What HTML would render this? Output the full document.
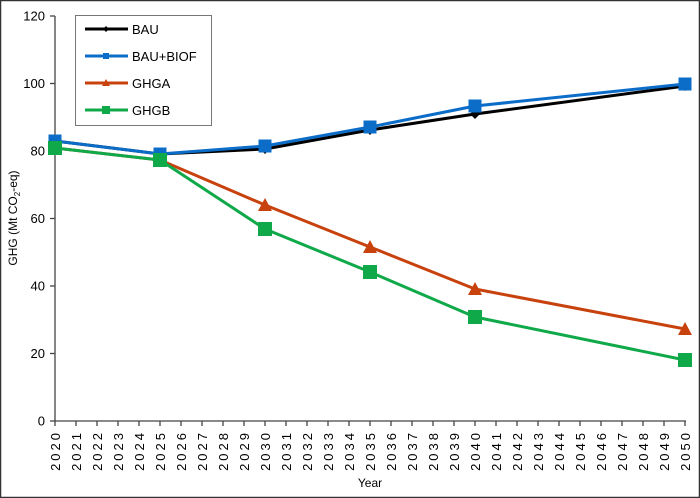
<!DOCTYPE html>
<html><head><meta charset="utf-8"><style>
html,body{margin:0;padding:0;background:#fff}
svg{display:block;font-family:"Liberation Sans",Arial,sans-serif}
</style></head><body>
<svg id="s" width="700" height="498" viewBox="0 0 700 498" xmlns="http://www.w3.org/2000/svg">
<rect x="0.5" y="0.5" width="699" height="497" fill="#fff" stroke="#333" stroke-width="1.5"/>
<g id="axes" stroke="#444" stroke-width="1.3">
<line x1="55" y1="16" x2="55" y2="421"/>
<line x1="55" y1="421" x2="686" y2="421"/>
</g>
<g id="ticks"></g>
<text x="17" y="218" font-size="12" text-anchor="middle" transform="rotate(-90 17 218)">GHG (Mt CO<tspan font-size="8" dy="3">2</tspan><tspan dy="-3">-eq)</tspan></text>
<text x="370" y="487" font-size="12" text-anchor="middle">Year</text>
<g fill="none" stroke-width="3" stroke-linejoin="round">
<polyline stroke="#000" points="55,141 160,154 265,149 370,130 475,114 685,86"/>
<polyline stroke="#0b6dc8" points="55,141 160,154 265,146 370,127 475,106 685,84"/>
<polyline stroke="#c8420e" points="55,148 160,160 265,205 370,247 475,289 685,329"/>
<polyline stroke="#10a94a" points="55,148 160,160 265,229 370,272 475,317 685,360"/>
</g>
<g id="mk"></g>
<rect x="75.5" y="15.5" width="136" height="110" fill="#fff" stroke="#777"/>
<g stroke-width="3">
<line x1="85" y1="29" x2="128" y2="29" stroke="#000"/>
<line x1="85" y1="56" x2="128" y2="56" stroke="#0b6dc8"/>
<line x1="85" y1="83" x2="128" y2="83" stroke="#c8420e"/>
<line x1="85" y1="110" x2="128" y2="110" stroke="#10a94a"/>
</g>
<polygon points="106,26 109,29 106,32 103,29" fill="#000"/>
<rect x="103" y="53" width="6" height="6" fill="#0b6dc8"/>
<polygon points="106,79 110,86 102,86" fill="#c8420e"/>
<rect x="102" y="106" width="8" height="8" fill="#10a94a"/>
<g font-size="13" fill="#000">
<text x="132" y="34">BAU</text><text x="132" y="61">BAU+BIOF</text>
<text x="132" y="88">GHGA</text><text x="132" y="115">GHGB</text>
</g>
</svg>
<script>
var NS="http://www.w3.org/2000/svg",t=document.getElementById("ticks"),m=document.getElementById("mk");
function el(n,a,p,txt){var e=document.createElementNS(NS,n);for(var k in a)e.setAttribute(k,a[k]);if(txt!=null)e.textContent=txt;p.appendChild(e);return e;}
for(var v=0;v<=120;v+=20){var y=421-v*3.375;el("line",{x1:50,x2:55,y1:y,y2:y,stroke:"#444","stroke-width":1.3},t);el("text",{x:45,y:y+4.5,"font-size":13,"text-anchor":"end"},t,v);}
for(var i=0;i<=30;i++){var x=55+i*21;el("line",{x1:x,x2:x,y1:421,y2:426,stroke:"#444","stroke-width":1.3},t);el("text",{x:0,y:0,"font-size":13,"text-anchor":"end","letter-spacing":"3",transform:"translate("+(x+5)+",430) rotate(-90)"},t,2020+i);}
var X=[55,160,265,370,475,685];
var bau=[141,154,149,130,114,86],bio=[141,154,146,127,106,84],ga=[148,160,205,247,289,329],gb=[148,160,229,272,317,360];
X.forEach(function(x,i){
el("polygon",{points:(x)+","+(bau[i]-5)+" "+(x+5)+","+bau[i]+" "+x+","+(bau[i]+5)+" "+(x-5)+","+bau[i],fill:"#000"},m);
el("rect",{x:x-6.5,y:bio[i]-6.5,width:13,height:13,fill:"#0b6dc8"},m);
if(i>=2)el("polygon",{points:x+","+(ga[i]-7)+" "+(x+7)+","+(ga[i]+6)+" "+(x-7)+","+(ga[i]+6),fill:"#c8420e"},m);
el("rect",{x:x-7,y:gb[i]-7,width:14,height:14,fill:"#10a94a"},m);
});
</script>
</body></html>
